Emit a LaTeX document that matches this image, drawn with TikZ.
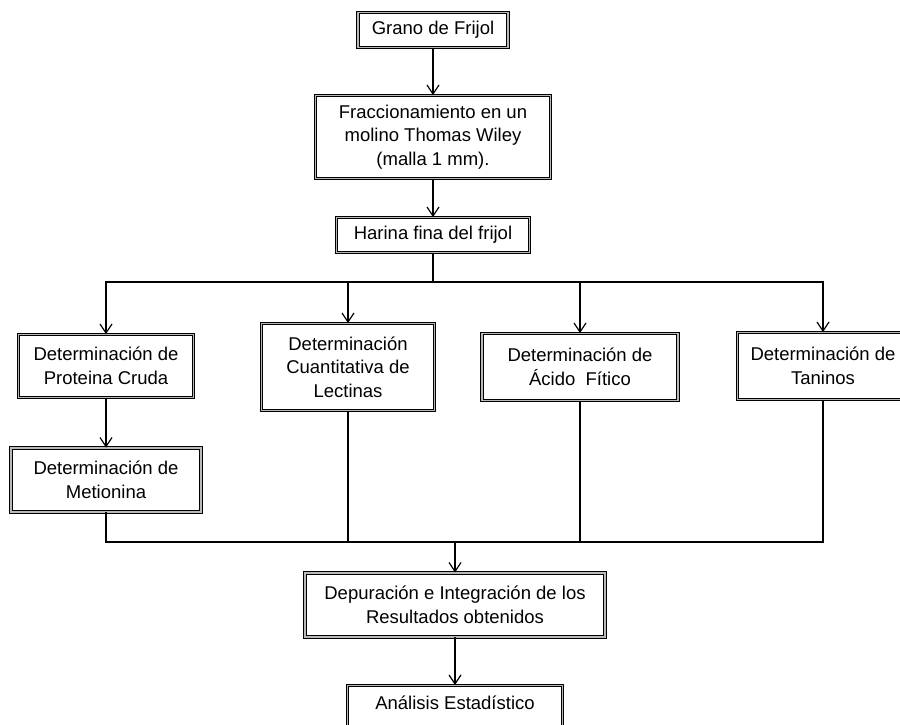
\documentclass[tikz,border=0pt]{standalone}
\usepackage{fontspec}
\setmainfont{Liberation Sans}
\usepackage{tikz}
\usetikzlibrary{arrows.meta}
\usetikzlibrary{positioning}
\tikzstyle{line} = [draw, line width=0.6pt, -{Straight Barb[length=4.5pt,width=6pt]}]
\tikzset{
    block/.style={draw=black, line width=0.45pt, double=gray!55, double distance=0.9pt,
        fill=white, align=center, inner sep=0pt,
        font=\fontsize{9.25}{11.75}\selectfont},
    link/.style={draw=black, line width=0.6pt},
}
\begin{document}
\begin{tikzpicture}[x=0.5pt, y=-0.5pt]
	\useasboundingbox (0,0) rectangle (900,724);
	\node[block, minimum width=75pt, minimum height=17.5pt] (grano) at (433,30) {Grano de Frijol};
	\node[block, minimum width=117.5pt, minimum height=41.5pt] (fracc) at (433,137) {Fraccionamiento en un\\molino Thomas Wiley\\(malla 1 mm).};
	\node[block, minimum width=96.5pt, minimum height=17.5pt] (harina) at (433,235) {Harina fina del frijol};
	\node[block, minimum width=87.5pt, minimum height=31.5pt] (proteina) at (106,366) {Determinación de\\Proteina Cruda};
	\node[block, minimum width=86.5pt, minimum height=43.5pt] (lectinas) at (348,367) {Determinación\\Cuantitativa de\\Lectinas};
	\node[block, minimum width=98pt, minimum height=33.5pt] (acido) at (580,367) {Determinación de\\Ácido\ \ Fítico};
	\node[block, minimum width=85.5pt, minimum height=33.5pt] (taninos) at (823,366) {Determinación de\\Taninos};
	\node[block, minimum width=95pt, minimum height=32pt] (metionina) at (106,480) {Determinación de\\Metionina};
	\node[block, minimum width=150pt, minimum height=32pt] (depuracion) at (455,605) {Depuración e Integración de los\\Resultados obtenidos};
	\node[block, minimum width=107.5pt, text height=12.25pt, text depth=10pt, anchor=north] (analisis) at (455,685) {Análisis Estadístico};
	\coordinate (split) at (433,282);
	\coordinate (join) at (455,542);
	\path[line] (grano) -- (fracc);
	\path[line] (fracc) -- (harina);
	\draw[link] (harina) -- (split);
	\path[line] (split) -| (proteina.north);
	\path[line] (split) -| (lectinas.north);
	\path[line] (split) -| (acido.north);
	\path[line] (split) -| (taninos.north);
	\path[line] (proteina) -- (metionina);
	\draw[link] (metionina.south) |- (join);
	\draw[link] (lectinas.south) |- (join);
	\draw[link] (acido.south) |- (join);
	\draw[link] (taninos.south) |- (join);
	\path[line] (join) -- (depuracion);
	\path[line] (depuracion) -- (analisis);
\end{tikzpicture}
\end{document}
